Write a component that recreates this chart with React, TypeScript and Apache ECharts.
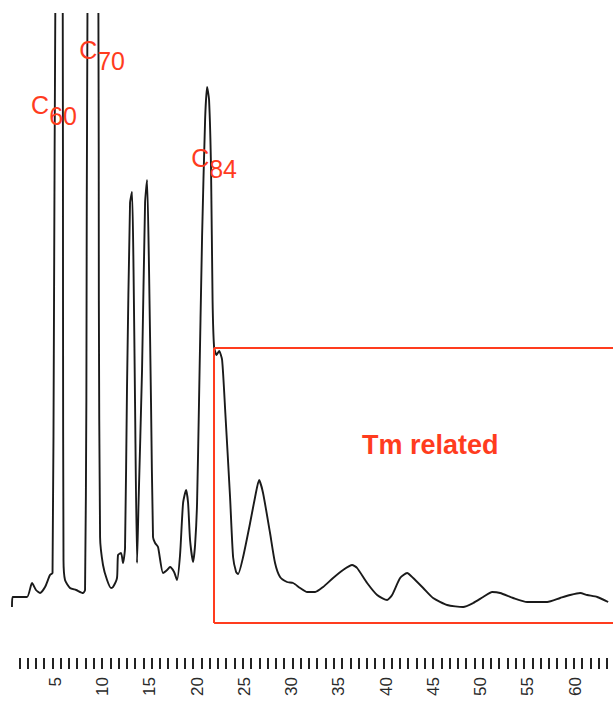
import React, { useEffect, useRef } from "react";
import * as echarts from "echarts";

// Retention time (min) and detector response (arbitrary units)
const times = [
  0.42, 0.48, 2.01, 2.54, 2.96, 3.39, 3.92, 4.44, 4.71, 4.87, 5.01, 5.4, 5.79, 5.82, 5.87, 6.03,
  6.56, 7.2, 7.94, 8.15, 8.29, 8.41, 8.99, 9.56, 9.61, 9.74, 10.05, 10.48, 10.9, 11.11, 11.53,
  11.64, 11.96, 12.17, 12.38, 12.59, 12.91, 13.12, 13.28, 13.44, 13.65, 13.81, 14.18, 14.5,
  14.71, 14.92, 15.13, 15.34, 15.56, 15.87, 16.4, 16.83, 17.14, 17.57, 17.88, 18.2, 18.52,
  18.84, 19.05, 19.26, 19.58, 19.79, 20.0, 20.21, 20.53, 20.85, 21.06, 21.27, 21.48, 21.64,
  21.8, 22.06, 22.33, 22.65, 22.99, 23.49, 23.81, 24.13, 24.34, 24.87, 25.61, 26.14, 26.56,
  26.98, 27.72, 28.25, 28.78, 29.52, 30.16, 30.9, 31.64, 32.49, 33.33, 34.39, 35.45, 36.4,
  36.93, 37.99, 39.05, 40.11, 40.63, 41.48, 42.22, 42.86, 43.92, 44.97, 46.46, 48.15, 49.21,
  50.26, 51.22, 52.06, 53.44, 54.92, 57.04, 58.41, 59.47, 60.53, 61.27, 62.33, 63.49,
];
const intensities = [
  -7, 3, 3, 17, 10, 7, 13, 25, 27, 300, 600, 900, 600, 300, 40, 20,
  12, 10, 7, 10, 200, 600, 900, 600, 300, 63, 35, 20, 12, 13, 22,
  45, 47, 37, 52, 213, 397, 408, 330, 197, 37, 97, 230, 397,
  420, 330, 197, 63, 57, 53, 27, 30, 33, 28, 20, 45, 97,
  110, 97, 60, 38, 55, 97, 200, 363, 480, 513, 500, 430, 300,
  253, 245, 249, 240, 187, 103, 43, 28, 26, 43, 77, 103, 120,
  107, 67, 37, 23, 18, 17, 12, 8, 8, 13, 22, 30, 35,
  32, 17, 5, 0, 5, 22, 27, 22, 12, 2, -5, -7, -3,
  3, 8, 7, 2, -2, -2, 2, 5, 7, 5, 3, -2,
];

// Axis labels (minutes)
const xTickLabels = [5, 10, 15, 20, 25, 30, 35, 40, 45, 50, 55, 60];

// Peak annotations
const peakNames = ["C60", "C70", "C84"];
const peakLabelCoords = [
  [4.87, 484],
  [9.95, 539],
  [21.8, 431],
];

// "Tm related" region (open on the right: runs off the plot)
const regionName = "Tm related";
const regionX = [21.8, 64];
const regionY = [-23, 252];
const regionLabelCoord = [44.66, 155];

const RED = "#ff3c1e";
const FONT = "'Liberation Sans', Arial, sans-serif";

export default function App() {
  const ref = useRef<HTMLDivElement>(null);

  useEffect(() => {
    document.body.style.margin = "0";
    if (!ref.current) return;
    const chart = echarts.init(ref.current, undefined, { renderer: "svg" });

    const seriesData = times.map((t, i) => [t, intensities[i]]);
    const [x0, x1] = regionX;
    const [y0, y1] = regionY;

    const option: any = {
      animation: false,
      backgroundColor: "#ffffff",
      grid: [
        { left: 8, right: 0, top: 14, bottom: 83 },
        { left: 19.3, width: 587.5, top: 600, height: 58 },
      ],
      xAxis: [
        {
          type: "value",
          gridIndex: 0,
          min: 0,
          max: 64,
          interval: 5,
          axisLine: { show: false },
          axisTick: { show: false },
          splitLine: { show: false },
          axisLabel: {
            rotate: 90,
            margin: 47,
            fontSize: 17,
            color: "#2a2a2a",
            fontFamily: FONT,
            showMinLabel: false,
            showMaxLabel: false,
            formatter: (v: number) => (xTickLabels.includes(v) ? String(v) : ""),
          },
        },
        {
          type: "value",
          gridIndex: 1,
          min: 0,
          max: 71,
          interval: 1,
          axisLine: { show: false },
          axisTick: { show: true, length: 11, lineStyle: { color: "#222", width: 2 } },
          splitLine: { show: false },
          axisLabel: { show: false },
        },
      ],
      yAxis: [
        {
          type: "value",
          gridIndex: 0,
          min: -30,
          max: 586,
          show: false,
        },
        {
          type: "value",
          gridIndex: 1,
          min: 0,
          max: 1,
          show: false,
        },
      ],
      series: [
        {
          type: "line",
          xAxisIndex: 0,
          yAxisIndex: 0,
          data: seriesData,
          showSymbol: false,
          smooth: 0.2,
          clip: true,
          lineStyle: { color: "#1a1a1a", width: 1.9 },
          markLine: {
            silent: true,
            symbol: "none",
            label: { show: false },
            lineStyle: { color: RED, width: 2, type: "solid" },
            data: [
              [{ coord: [x0, y1] }, { coord: [x1, y1] }],
              [{ coord: [x0, y0] }, { coord: [x1, y0] }],
              [{ coord: [x0, y0] }, { coord: [x0, y1] }],
            ],
          },
          markPoint: {
            silent: true,
            symbol: "circle",
            symbolSize: 1,
            itemStyle: { color: "rgba(0,0,0,0)" },
            label: {
              show: true,
              position: "inside",
              formatter: (p: any) => `{c|C}{n|${String(p.name).slice(1)}}`,
              rich: {
                c: { fontSize: 25, lineHeight: 24, verticalAlign: "top", color: RED, fontFamily: FONT },
                n: { fontSize: 25, lineHeight: 48, verticalAlign: "middle", color: RED, fontFamily: FONT },
              },
            },
            data: [
              ...peakNames.map((n, i) => ({ name: n, coord: peakLabelCoords[i] })),
              {
                name: regionName,
                coord: regionLabelCoord,
                label: {
                  show: true,
                  position: "inside",
                  formatter: regionName,
                  fontSize: 27,
                  fontWeight: "bold",
                  color: RED,
                  fontFamily: FONT,
                },
              },
            ],
          },
        },
        {
          type: "line",
          xAxisIndex: 1,
          yAxisIndex: 1,
          data: [],
        },
      ],
    };

    chart.setOption(option);
    return () => chart.dispose();
  }, []);

  return <div ref={ref} style={{ width: 613, height: 713 }} />;
}
